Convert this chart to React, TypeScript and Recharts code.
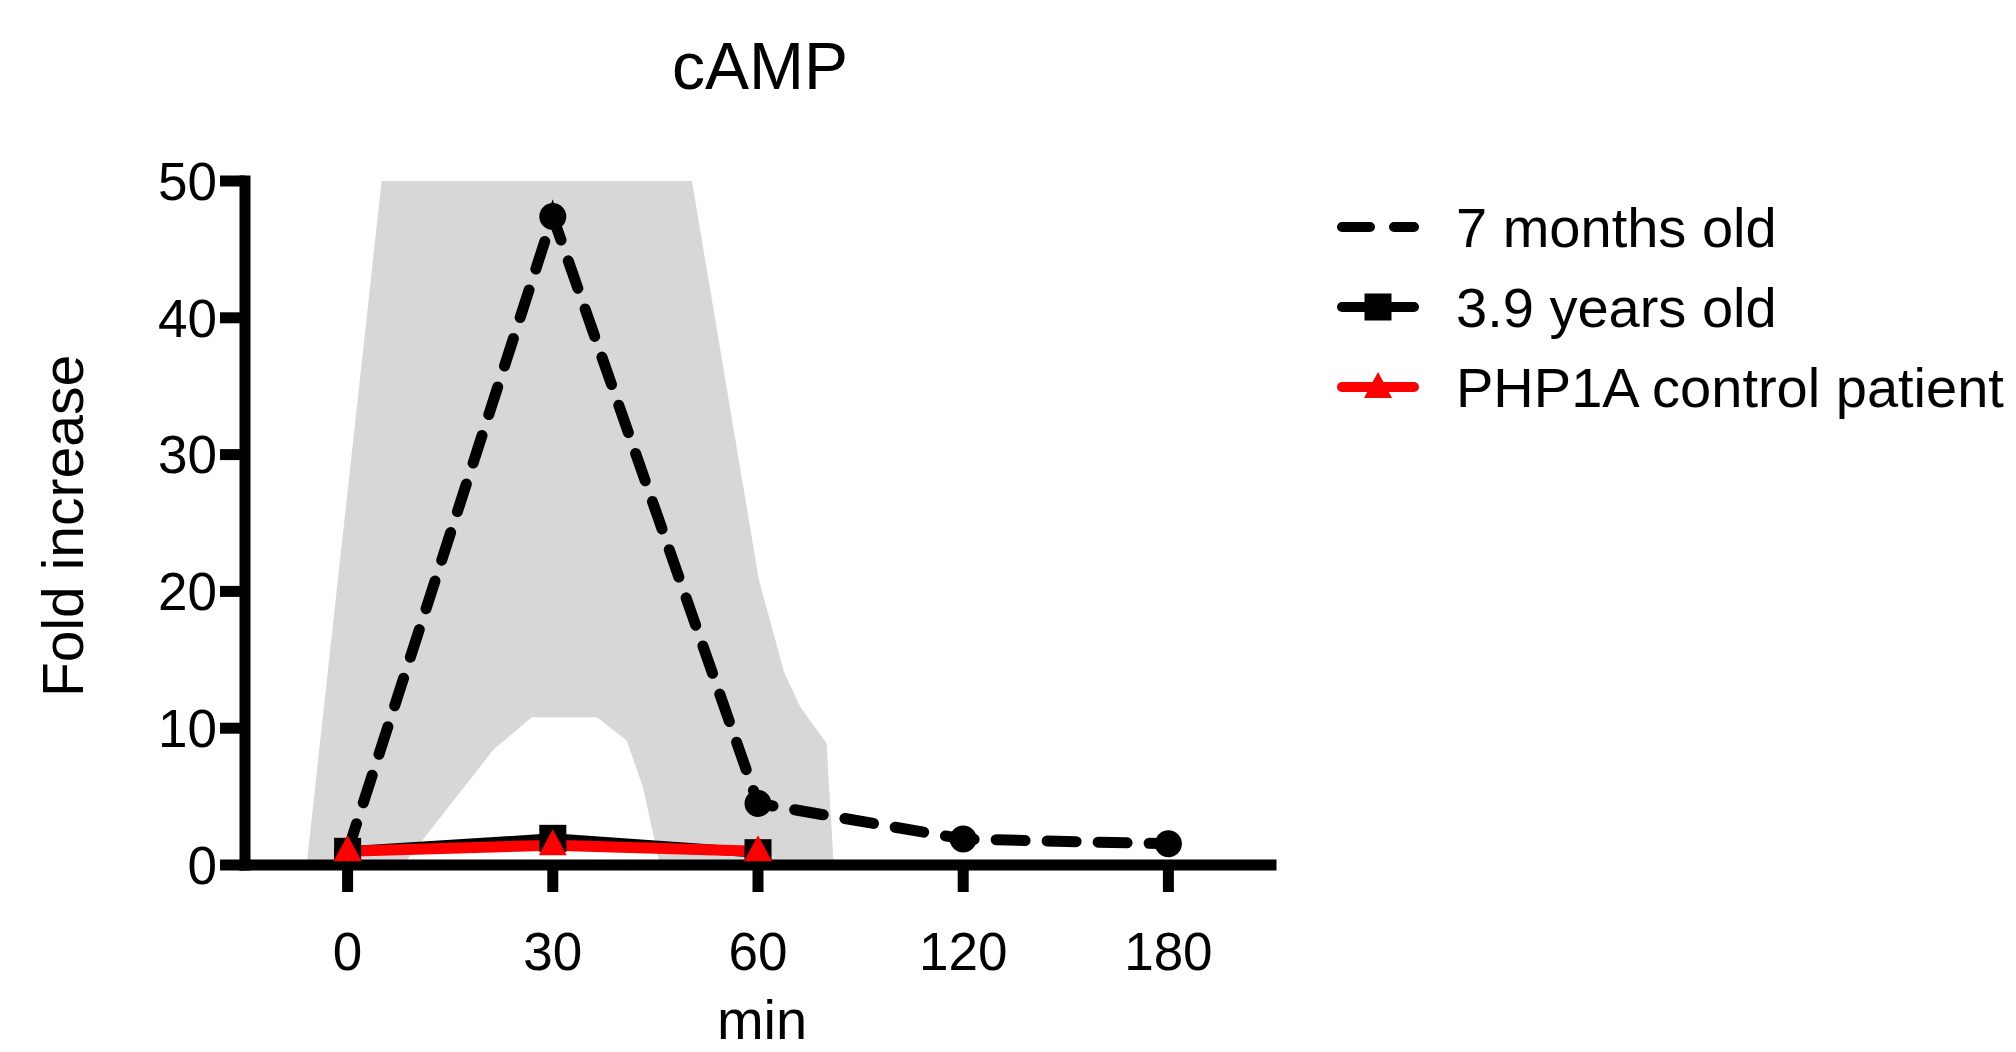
import React from 'react'
import { ComposedChart, Line, Area, XAxis, YAxis } from 'recharts'

const FONT = '"Liberation Sans", Arial, Helvetica, sans-serif'
const NARROW = '"Liberation Sans Narrow", "Liberation Sans", Arial, sans-serif'

// time points (min) shown as evenly spaced categories
const TIME_LABELS = ['0', '30', '60', '120', '180']
const Y_TICKS = [0, 10, 20, 30, 40, 50]

// fold increase per series
const SEVEN_MONTHS = [1.0, 47.4, 4.5, 1.9, 1.55]
const THREE_NINE_YEARS = [1.0, 1.95, 0.9]
const PHP1A_CONTROL = [1.0, 1.45, 1.0]

// grey reference band (outer edge, and the white gap beneath it), x in category units
const BAND_OUTER_X = [-0.2, 0.166, 1.678, 2.005, 2.127, 2.208, 2.334, 2.369]
const BAND_OUTER_Y = [0, 50, 50, 20.8, 14.1, 11.5, 8.9, 0]
const BAND_INNER_X = [0.27, 0.709, 0.897, 1.214, 1.36, 1.439, 1.522]
const BAND_INNER_Y = [0, 8.4, 10.8, 10.8, 9.1, 5.7, 0]

const toRows = (values: number[]) => values.map((v, i) => ({ x: i, v }))
const bandRows = (xs: number[], ys: number[]) => xs.map((x, i) => ({ x, v: ys[i] }))

const sevenData = toRows(SEVEN_MONTHS)
const threeData = toRows(THREE_NINE_YEARS)
const phpData = toRows(PHP1A_CONTROL)
const outerData = bandRows(BAND_OUTER_X, BAND_OUTER_Y)
const innerData = bandRows(BAND_INNER_X, BAND_INNER_Y)

const CircleDot = (p: any) =>
  p.cx == null ? null : <circle key={`c-${p.index}`} cx={p.cx} cy={p.cy} r={13.5} fill="#000" />

const SquareDot = (p: any) =>
  p.cx == null ? null : (
    <rect key={`s-${p.index}`} x={p.cx - 13.5} y={p.cy - 13.5} width={27} height={27} fill="#000" />
  )

const triPoints = (cx: number, cy: number) =>
  `${cx},${cy - 16} ${cx - 14},${cy + 10} ${cx + 14},${cy + 10}`

const TriangleDot = (p: any) =>
  p.cx == null ? null : <polygon key={`t-${p.index}`} points={triPoints(p.cx, p.cy)} fill="#ff0000" />

const yLabel = (p: any) => {
  const vb = p.viewBox || { x: 100, y: 181, width: 145, height: 684 }
  const x = 83
  const y = vb.y + vb.height / 2 + 3
  return (
    <text x={x} y={y} transform={`rotate(-90, ${x}, ${y})`} textAnchor="middle" fontSize={57} fontFamily={FONT} fill="#000">
      Fold increase
    </text>
  )
}

const xLabel = (p: any) => {
  const vb = p.viewBox || { x: 245, y: 865, width: 1026, height: 187 }
  return (
    <text x={vb.x + vb.width / 2 + 4} y={vb.y + 174} textAnchor="middle" fontSize={56} fontFamily={FONT} fill="#000">
      min
    </text>
  )
}

const LEGEND = [
  { name: '7 months old', kind: 'dash' },
  { name: '3.9 years old', kind: 'square' },
  { name: 'PHP1A control patient', kind: 'triangle' }
]

function LegendIcon({ kind }: { kind: string }) {
  const color = kind === 'triangle' ? '#ff0000' : '#000'
  return (
    <svg width={82} height={40} style={{ display: 'block', overflow: 'visible' }}>
      <line
        x1={5}
        y1={20}
        x2={77}
        y2={20}
        stroke={color}
        strokeWidth={10}
        strokeLinecap="round"
        strokeDasharray={kind === 'dash' ? '28 24' : undefined}
      />
      {kind === 'square' && <rect x={27.5} y={6.5} width={27} height={27} fill="#000" />}
      {kind === 'triangle' && <polygon points={triPoints(41, 21)} fill="#ff0000" />}
    </svg>
  )
}

function ChartLegend() {
  return (
    <div style={{ position: 'absolute', left: 1337, top: 187 }}>
      {LEGEND.map((item) => (
        <div key={item.name} style={{ display: 'flex', alignItems: 'center', height: 80 }}>
          <LegendIcon kind={item.kind} />
          <span style={{ marginLeft: 37, fontSize: 56, fontFamily: FONT, color: '#000', whiteSpace: 'nowrap' }}>
            {item.name}
          </span>
        </div>
      ))}
    </div>
  )
}

export default function App() {
  return (
    <div style={{ position: 'absolute', left: 0, top: 0, width: 2016, height: 1052, background: '#fff', overflow: 'hidden' }}>
      <div
        style={{
          position: 'absolute',
          left: 245,
          width: 1030,
          top: 33,
          textAlign: 'center',
          fontSize: 66,
          lineHeight: 1,
          fontFamily: FONT,
          color: '#000'
        }}
      >
        cAMP
      </div>
      <ComposedChart width={2016} height={1052} margin={{ top: 181, right: 745, bottom: 0, left: 100 }}>
        <Area
          data={outerData}
          dataKey="v"
          type="linear"
          fill="#d7d7d7"
          fillOpacity={1}
          stroke="none"
          dot={false}
          activeDot={false}
          legendType="none"
          isAnimationActive={false}
        />
        <Area
          data={innerData}
          dataKey="v"
          type="linear"
          fill="#ffffff"
          fillOpacity={1}
          stroke="none"
          dot={false}
          activeDot={false}
          legendType="none"
          isAnimationActive={false}
        />
        <Line
          data={sevenData}
          dataKey="v"
          type="linear"
          stroke="#000"
          strokeWidth={11}
          strokeDasharray="29 22"
          strokeLinecap="round"
          dot={CircleDot}
          activeDot={false}
          isAnimationActive={false}
        />
        <Line
          data={threeData}
          dataKey="v"
          type="linear"
          stroke="#000"
          strokeWidth={10}
          dot={SquareDot}
          activeDot={false}
          isAnimationActive={false}
        />
        <Line
          data={phpData}
          dataKey="v"
          type="linear"
          stroke="#ff0000"
          strokeWidth={11}
          dot={TriangleDot}
          activeDot={false}
          isAnimationActive={false}
        />
        <XAxis
          type="number"
          dataKey="x"
          domain={[-0.5, 4.5]}
          ticks={[0, 1, 2, 3, 4]}
          interval={0}
          allowDataOverflow
          tickFormatter={(v: number) => TIME_LABELS[v] ?? ''}
          height={187}
          axisLine={{ stroke: '#000', strokeWidth: 11, strokeLinecap: 'square' }}
          tickLine={{ stroke: '#000', strokeWidth: 11 }}
          tickSize={27}
          tickMargin={40}
          tick={{ fill: '#000', fontSize: 53, fontFamily: NARROW }}
          label={xLabel}
        />
        <YAxis
          type="number"
          domain={[0, 50]}
          ticks={Y_TICKS}
          interval={0}
          allowDataOverflow
          width={145}
          axisLine={{ stroke: '#000', strokeWidth: 11, strokeLinecap: 'square' }}
          tickLine={{ stroke: '#000', strokeWidth: 11 }}
          tickSize={25}
          tickMargin={3}
          tick={{ fill: '#000', fontSize: 53, fontFamily: NARROW }}
          label={yLabel}
        />
      </ComposedChart>
      <ChartLegend />
    </div>
  )
}
